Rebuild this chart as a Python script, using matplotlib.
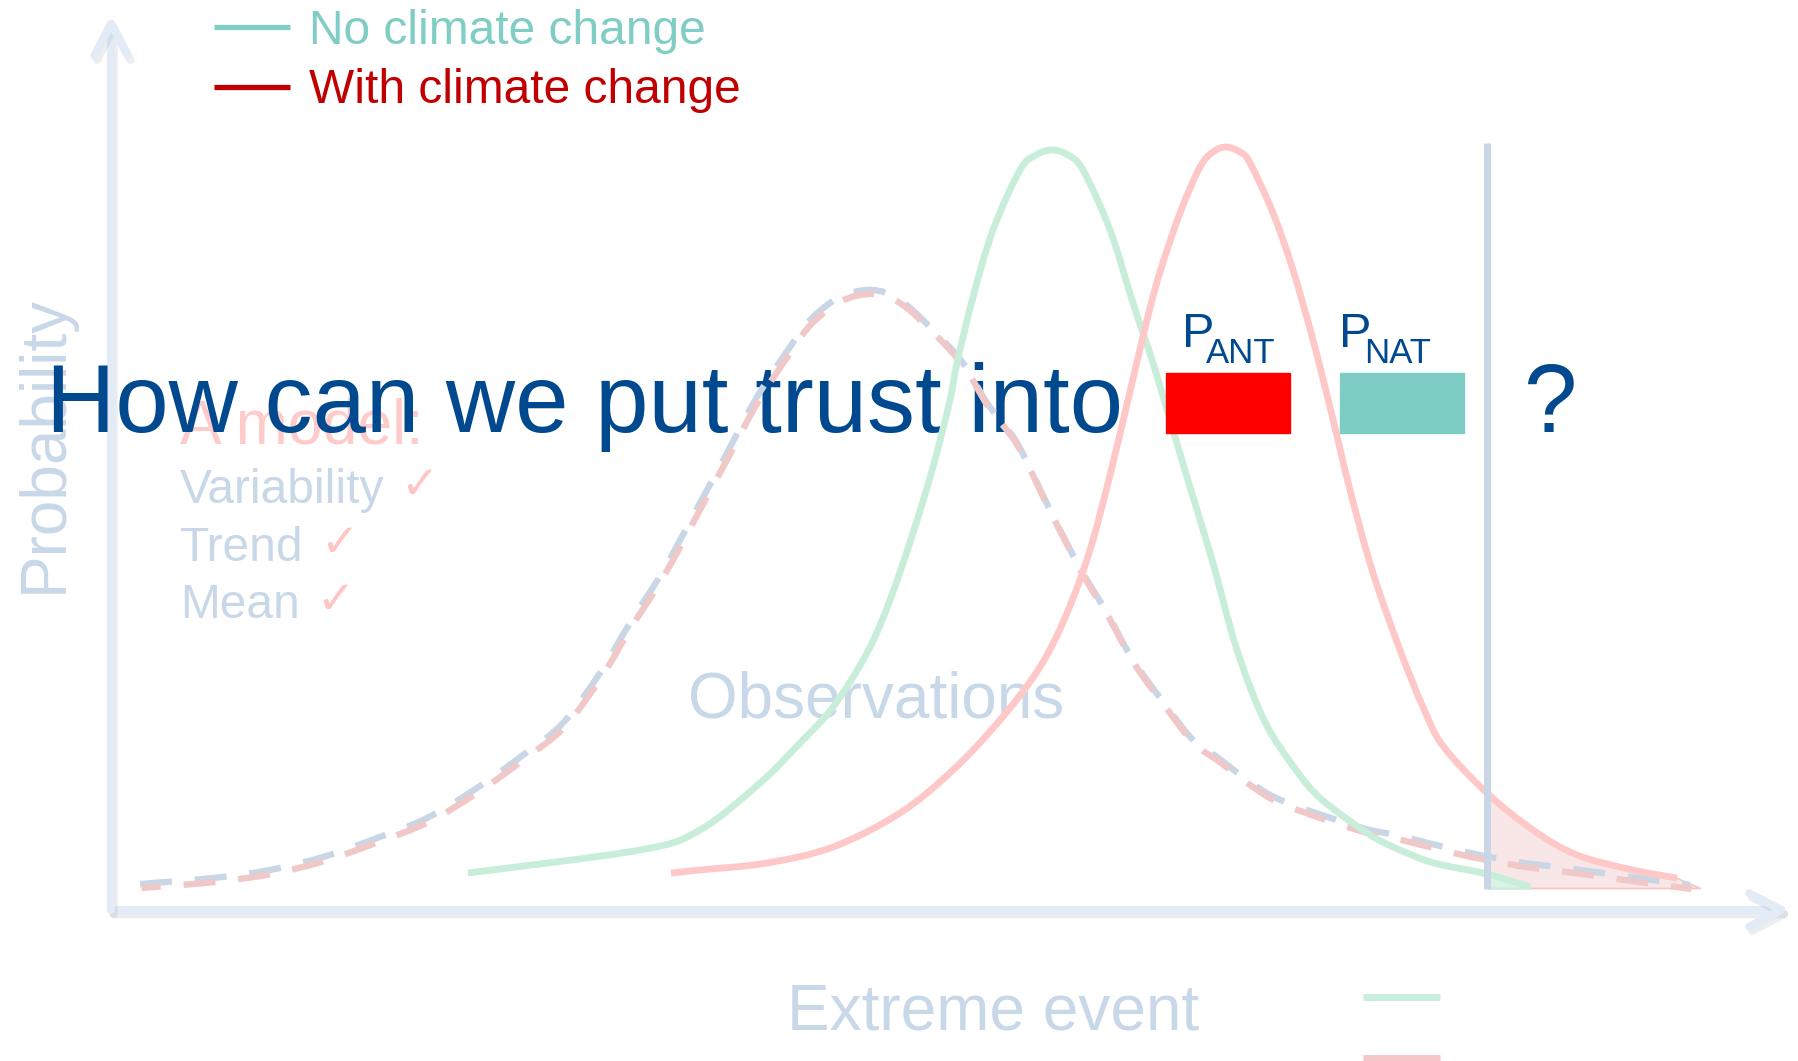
import numpy as np
import matplotlib
matplotlib.use("Agg")
import matplotlib.pyplot as plt
from matplotlib.lines import Line2D
from matplotlib.patches import Rectangle, PathPatch
from matplotlib.path import Path
import matplotlib.patheffects as pe
import matplotlib.transforms as mtrans

# curves (x: event size, y: probability, arbitrary units)
nat_x = [35.7, 52.9, 58.9, 64.9, 68.9, 72.2, 75.6, 77.9, 80.2, 82.2, 83.9, 84.6, 86.2, 88.2,
         90.9, 92.5, 94.1, 95.7, 97.2, 99.9, 102.2, 104.2, 106.2, 108.2, 110.2, 112.6, 115.4,
         118.5, 120.9, 124.3, 126.6, 128.9, 132.3, 137.6, 141.9]
nat_y = [3.7, 6.0, 8.0, 12.7, 16.7, 20.3, 25.7, 31.0, 37.7, 44.3, 51.0, 54.7, 61.3, 68.0,
         74.0, 75.5, 76.0, 75.5, 74.0, 68.0, 60.7, 54.7, 48.0, 41.3, 34.7, 26.0, 18.8,
         14.0, 11.2, 8.6, 7.1, 6.0, 4.7, 3.6, 2.3]

ant_x = [56.0, 58.9, 65.6, 72.2, 78.9, 84.2, 88.9, 92.9, 95.6, 97.9, 99.9, 101.7, 103.6, 104.9,
         106.9, 108.9, 110.2, 111.5, 112.9, 113.9, 116.2, 118.2, 120.2, 121.9, 123.9, 126.2,
         128.9, 131.2, 133.2, 137.6, 142.2, 146.6, 152.2, 156.6]
ant_y = [3.7, 4.0, 4.7, 6.3, 9.7, 14.0, 19.0, 24.3, 29.7, 36.0, 43.5, 51.0, 59.0, 63.8,
         69.7, 74.3, 75.8, 76.3, 75.8, 74.7, 69.7, 64.0, 57.0, 50.3, 42.0, 33.7,
         26.0, 20.3, 16.4, 11.7, 8.0, 5.5, 4.0, 3.2]

obs_x = [2.9, 10.2, 15.9, 21.2, 26.6, 31.6, 36.6, 41.2, 45.2, 48.9, 51.9, 55.2, 58.9, 61.6,
         64.6, 67.9, 69.9, 72.9, 76.1, 78.9, 82.2, 85.2, 87.6, 90.6, 93.9, 96.9, 99.6, 102.2,
         105.6, 108.2, 110.6, 113.9, 117.2, 124.8, 128.9, 135.0, 140.7, 146.2, 151.9, 157.9]
obs_y = [2.6, 3.2, 4.0, 5.3, 7.2, 9.2, 12.2, 15.5, 18.7, 23.7, 28.7, 33.9, 40.7, 45.7,
         51.3, 56.3, 59.0, 61.3, 62.0, 61.0, 58.0, 54.7, 50.7, 46.7, 40.0, 34.2, 29.7, 25.0,
         20.3, 17.0, 15.3, 12.8, 10.9, 8.3, 7.4, 5.9, 4.8, 4.1, 3.3, 2.5]

threshold = 137.6
tail_end = 158.9
tail_base = 2.2

legend_labels = ["No climate change", "With climate change"]
model_items = ["Variability", "Trend", "Mean"]

W, H = 1799, 1061
fig = plt.figure(figsize=(W / 100, H / 100), dpi=100)


def fx(px):
    return px / W


def fy(py):
    return 1 - py / H


def smooth_path(x, y):
    # catmull-rom through the read points, drawn as bezier segments
    pts = np.column_stack([x, y])
    verts = [pts[0]]
    codes = [Path.MOVETO]
    n = len(pts)
    for i in range(n - 1):
        p0 = pts[i - 1] if i > 0 else pts[i]
        p1, p2 = pts[i], pts[i + 1]
        p3 = pts[i + 2] if i + 2 < n else pts[i + 1]
        verts += [p1 + (p2 - p0) / 6, p2 - (p3 - p1) / 6, p2]
        codes += [Path.CURVE4] * 3
    return Path(verts, codes)


ax = fig.add_axes([fx(111), fy(910), (1790 - 111) / W, (910 - 15) / H])
ax.set_xlim(0, 167.9)
ax.set_ylim(0, 89.5)
ax.axis("off")

FONT = "Liberation Sans"
BLUE = "#00498f"
GREY = "#c9d8e8"
TF = fig.transFigure

# axes arrows with soft shadow
shadow = [pe.SimpleLineShadow(offset=(2, -3), shadow_color="#9aa0a8", alpha=0.18), pe.Normal()]
for xy in [(1, 0), (0, 1)]:
    ax.annotate("", xy=xy, xytext=(0, 0), xycoords="axes fraction", textcoords="axes fraction",
                arrowprops=dict(arrowstyle="->,head_length=23,head_width=12", mutation_scale=1,
                                lw=5.8, color="#e3ebf6", shrinkA=0, shrinkB=0,
                                capstyle="round", joinstyle="round", path_effects=shadow),
                zorder=1)

# background texts
ax.text(fx(62), fy(593), "Probability", transform=TF, rotation=90, rotation_mode="anchor",
        ha="left", va="baseline", fontsize=46, color=GREY, family=FONT, zorder=1)
ax.text(fx(180), fy(443), "A model:", transform=TF, fontsize=45, color="#ffcaca",
        family=FONT, va="baseline", zorder=1)
for name, base, cx in zip(model_items, [503, 561, 618], [400, 320, 316]):
    ax.text(fx(180), fy(base), name, transform=TF, fontsize=34.5, color=GREY,
            family=FONT, va="baseline", zorder=1)
    ax.text(fx(cx), fy(base - 4), "\u2713", transform=TF, fontsize=33, color="#ffc4c4",
            family="DejaVu Sans", va="baseline", zorder=1)
ax.text(fx(688), fy(717), "Observations", transform=TF, fontsize=46, color=GREY,
        family=FONT, va="baseline", zorder=1)
ax.text(fx(787), fy(1030), "Extreme event", transform=TF, fontsize=46, color=GREY,
        family=FONT, va="baseline", zorder=1)

# the question
ax.text(fx(46), fy(432), "How can we put trust into", transform=TF, fontsize=69, color=BLUE,
        family=FONT, va="baseline", zorder=2)
ax.text(fx(1523), fy(432), "?", transform=TF, fontsize=69, color=BLUE,
        family=FONT, va="baseline", zorder=2)

# tail areas beyond the threshold
nx, ny = np.array(nat_x), np.array(nat_y)
axx, ayy = np.array(ant_x), np.array(ant_y)
m = axx >= threshold
ax.fill_between(np.append(axx[m], tail_end), np.append(ayy[m], tail_base), tail_base,
                color="#f9e7e7", edgecolor="#f6c4c4", lw=1.2, zorder=3)
m = nx >= threshold
ax.fill_between(nx[m], ny[m], tail_base, color="#d9f3e6", edgecolor="#c8eeda", lw=1.5, zorder=3)

# observed / modelled distributions (dashed)
obs_path = smooth_path(obs_x, obs_y)
ax.add_patch(PathPatch(obs_path, fill=False, edgecolor="#c8d6e6", lw=4.6,
                       ls=(0, (5.0, 3.6)), capstyle="butt", zorder=3))
shift = ax.transData + mtrans.ScaledTranslation(0.015, -0.04, fig.dpi_scale_trans)
ax.add_patch(PathPatch(obs_path, fill=False, edgecolor="#f0c8c8", lw=4.6,
                       ls=(2, (5.0, 3.6)), capstyle="butt", transform=shift, zorder=3))

# natural / anthropogenic distributions
ax.add_patch(PathPatch(smooth_path(nat_x, nat_y), fill=False, edgecolor="#c8eeda",
                       lw=4.9, capstyle="butt", zorder=4))
ax.add_patch(PathPatch(smooth_path(ant_x, ant_y), fill=False, edgecolor="#ffc8c8",
                       lw=4.9, capstyle="butt", zorder=4))

# threshold
ax.vlines(threshold, 2.1, 76.7, color="#c8d6e6", lw=5, zorder=4)

# P_ANT / P_NAT boxes
ax.add_patch(Rectangle((fx(1166), fy(433)), (1290 - 1166) / W, 60 / H, transform=TF,
                       color="#ff0000", zorder=6))
ax.add_patch(Rectangle((fx(1340), fy(433)), (1464 - 1340) / W, 60 / H, transform=TF,
                       color="#7ecdc4", zorder=6))
for px, sub, spx in [(1182, "ANT", 1206), (1339, "NAT", 1364)]:
    ax.text(fx(px), fy(347), "P", transform=TF, fontsize=35, color=BLUE, family=FONT,
            va="baseline", zorder=6)
    ax.text(fx(spx), fy(363), sub, transform=TF, fontsize=25, color=BLUE, family=FONT,
            va="baseline", zorder=6)

# legends
handles = [Line2D([], [], color="#7fcdc5", lw=3.8, solid_capstyle="butt"),
           Line2D([], [], color="#c00000", lw=3.8, solid_capstyle="butt")]
leg = ax.legend(handles, legend_labels, loc="upper left", bbox_to_anchor=(fx(214), fy(9)),
                bbox_transform=TF, frameon=False, prop={"family": FONT, "size": 34.5},
                handlelength=1.58, handletextpad=0.4, labelspacing=0.3, borderpad=0,
                borderaxespad=0, labelcolor=["#7fcdc5", "#c00000"])
leg.set_zorder(7)
ax.add_artist(leg)

handles2 = [Line2D([], [], color="#c8eedc", lw=5, solid_capstyle="butt"),
            Line2D([], [], color="#f4c8c8", lw=5, solid_capstyle="butt")]
leg2 = ax.legend(handles2, [" ", " "], loc="upper left", bbox_to_anchor=(fx(1363), fy(981)),
                 bbox_transform=TF, frameon=False, prop={"family": FONT, "size": 31},
                 handlelength=1.8, handletextpad=0.2, labelspacing=0.5, borderpad=0,
                 borderaxespad=0)

fig.savefig("out.png", dpi=100)
